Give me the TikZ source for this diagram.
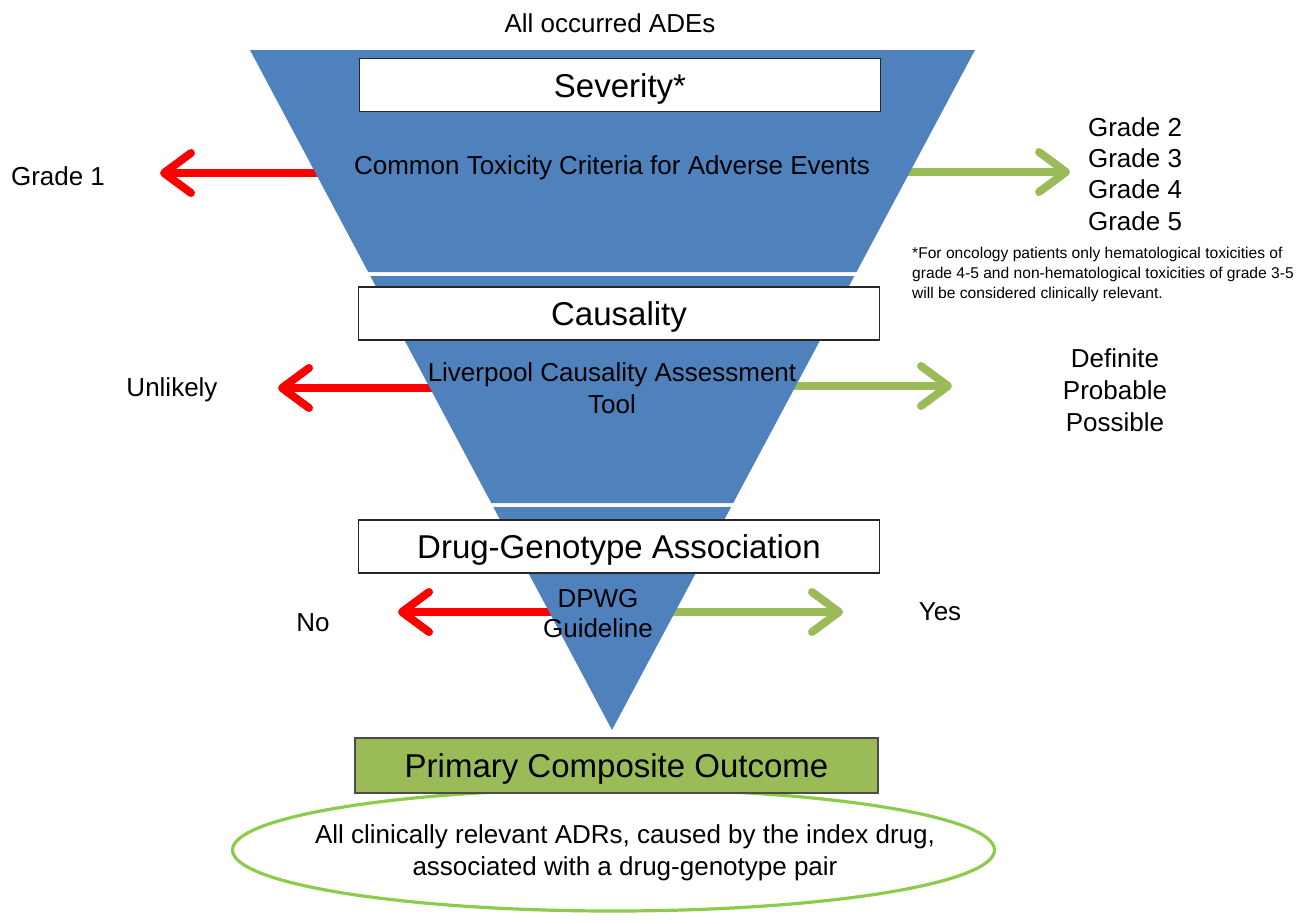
\documentclass[tikz,border=0pt]{standalone}
\usepackage{fontspec}
\setmainfont{Liberation Sans}
\usetikzlibrary{arrows.meta,shapes.geometric}
\definecolor{fblue}{HTML}{4F81BD}
\definecolor{fred}{HTML}{FF0000}
\definecolor{fgreen}{HTML}{9BBB59}
\definecolor{egreen}{HTML}{8DCB4A}
\begin{document}
\begin{tikzpicture}[x=1pt,y=-1pt,
  headbox/.style={draw=black!85, fill=white, line width=1.2pt, minimum width=521pt, minimum height=53pt, inner sep=0pt, text height=29pt, text depth=5pt, font=\fontsize{33}{36}\selectfont},
  outbox/.style={draw=black!70, fill=fgreen, line width=1.2pt, minimum width=523pt, minimum height=55pt, inner sep=0pt, text height=29pt, text depth=5pt, font=\fontsize{33}{36}\selectfont},
  body/.style={font=\fontsize{26}{32}\selectfont, align=center, inner sep=0pt},
  noarrow/.style={line width=8pt, draw=fred, -{Straight Barb[round,length=27pt,width=40pt]}},
  yesarrow/.style={line width=8pt, draw=fgreen, -{Straight Barb[round,length=27pt,width=40pt]}},
  slice/.style={fill=fblue, draw=none}
]
\useasboundingbox (0,0) rectangle (1297,921);

% arrows (under the funnel)
\coordinate (r1s) at (330,173); \coordinate (r1e) at (160,173);
\coordinate (g1s) at (895,172); \coordinate (g1e) at (1070,172);
\coordinate (r2s) at (445,388); \coordinate (r2e) at (278,388);
\coordinate (g2s) at (785,386); \coordinate (g2e) at (952,386);
\coordinate (r3s) at (565,612); \coordinate (r3e) at (398,612);
\coordinate (g3s) at (660,612); \coordinate (g3e) at (843,612);
\draw[noarrow] (r1s) -- (r1e);
\draw[yesarrow] (g1s) -- (g1e);
\draw[noarrow] (r2s) -- (r2e);
\draw[yesarrow] (g2s) -- (g2e);
\draw[noarrow] (r3s) -- (r3e);
\draw[yesarrow] (g3s) -- (g3e);

% funnel slices
\fill[slice] (250,50) -- (975,50) -- (856.5,272) -- (368.2,272) -- cycle;
\fill[slice] (370.3,276) -- (854.4,276) -- (733.2,503) -- (491.2,503) -- cycle;
\fill[slice] (493.3,507) -- (731.1,507) -- (612,730) -- cycle;

% ellipse under outcome box
\node[ellipse, draw=egreen, line width=3.2pt, minimum width=762pt, minimum height=122pt, inner sep=0pt] (ell) at (613.5,850) {};
\node[body] (elltxt) at (625,853) {All clinically relevant ADRs, caused by the index drug,\\associated with a drug-genotype pair};

% boxes
\node[headbox] (sev) at (620,85) {Severity*};
\node[headbox] (cau) at (619,313.5) {Causality};
\node[headbox] (dga) at (619,546.5) {Drug-Genotype Association};
\node[outbox] (pco) at (616.5,765.5) {Primary Composite Outcome};

% texts
\node[body] (all) at (610,23) {All occurred ADEs};
\node[body] (ctc) at (612,168) {Common Toxicity Criteria for Adverse Events};
\node[body] (g1) at (58,176) {Grade 1};
\node[body, font=\fontsize{26}{31.3}\selectfont] (g25) at (1135,174) {Grade 2\\Grade 3\\Grade 4\\Grade 5};
\node[inner sep=0pt, align=left, anchor=north west, font=\fontsize{15.6}{20}\selectfont] (fn) at (912,247) {*For oncology patients only hematological toxicities of\\grade 4-5 and non-hematological toxicities of grade 3-5\\will be considered clinically relevant.};
\node[body] (lcat) at (612,388) {Liverpool Causality Assessment\\Tool};
\node[body] (unl) at (172,390) {Unlikely};
\node[body] (dpp) at (1115,390) {Definite\\Probable\\Possible};
\node[body, font=\fontsize{26}{30}\selectfont] (dpwg) at (598,614) {DPWG\\Guideline};
\node[body] (no) at (313,623) {No};
\node[body] (yes) at (940,612) {Yes};
\end{tikzpicture}
\end{document}
